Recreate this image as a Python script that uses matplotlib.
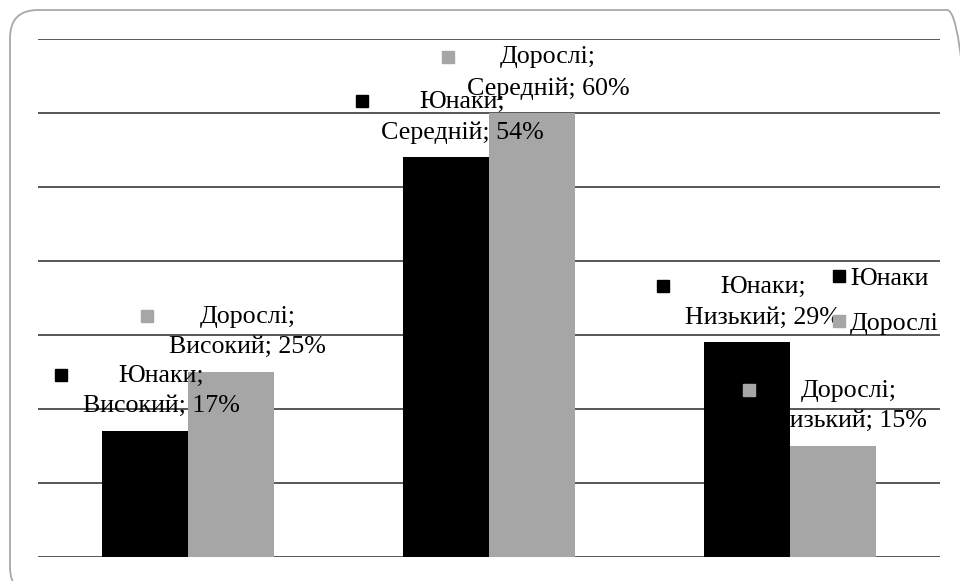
import matplotlib
matplotlib.use("Agg")
import matplotlib.pyplot as plt
import matplotlib.transforms as mtransforms
from matplotlib.patches import FancyBboxPatch
from matplotlib.lines import Line2D
import numpy as np

# Data
categories = ["Високий", "Середній", "Низький"]
series_names = ["Юнаки", "Дорослі"]
youth = [17, 54, 29]
adults = [25, 60, 15]
colors = ["#000000", "#a6a6a6"]

plt.rcParams["font.family"] = ["Liberation Serif", "DejaVu Serif"]

W, H = 960, 581
fig = plt.figure(figsize=(W / 100, H / 100), dpi=100)

# Rounded outer frame in pixel units (runs past the right/bottom edges)
frame = FancyBboxPatch((10, H - 595), 965, 585,
                       boxstyle="round,pad=0,rounding_size=28",
                       transform=mtransforms.IdentityTransform(),
                       facecolor="none", edgecolor="#a8a8a8",
                       linewidth=1.3, zorder=-1)
fig.patches.append(frame)

ax = fig.add_axes([38 / W, (H - 557) / H, 902 / W, 518 / H])
ax.set_facecolor("none")
ax.set_xlim(-0.5, 2.5)
ax.set_ylim(0, 70)
for s in ax.spines.values():
    s.set_visible(False)
ax.set_xticks([])
ax.set_yticks(np.arange(0, 71, 10))
ax.tick_params(left=False, labelleft=False)
ax.yaxis.grid(True, color="#4a4a4a", linewidth=1.3, zorder=1)
ax.set_axisbelow(True)

x = np.arange(len(categories))
bw = 0.286
vals = [youth, adults]
offs = [-bw / 2, bw / 2]
zb = [3, 2]
for i, (name, v) in enumerate(zip(series_names, vals)):
    ax.bar(x + offs[i], v, width=bw, color=colors[i], zorder=zb[i])

fs = 18.7
for i, (name, v) in enumerate(zip(series_names, vals)):
    for j, cat in enumerate(categories):
        xc = x[j] + offs[i]
        ax.annotate(f"{name};\n{cat}; {v[j]}%", xy=(xc, v[j]),
                    xytext=(16, 40), textcoords="offset pixels",
                    ha="center", va="center", multialignment="center",
                    fontsize=fs, linespacing=1.5, zorder=2.5)
        tr = mtransforms.offset_copy(ax.transData, fig=fig, x=16 - 100,
                                     y=40 + 16, units="dots")
        ax.plot([xc], [v[j]], marker="s", markersize=9, color=colors[i],
                linestyle="none", transform=tr, zorder=4, clip_on=False)

handles = [Line2D([], [], marker="s", markersize=9, color=c, linestyle="none")
           for c in colors]
ax.legend(handles, series_names, loc="upper left",
          bbox_to_anchor=(833 / W, 1 - 267 / H), bbox_transform=fig.transFigure,
          frameon=False, fontsize=fs, handlelength=0.5, handletextpad=0.15,
          borderpad=0, borderaxespad=0, labelspacing=0.85)

fig.savefig("out.png", dpi=100)
